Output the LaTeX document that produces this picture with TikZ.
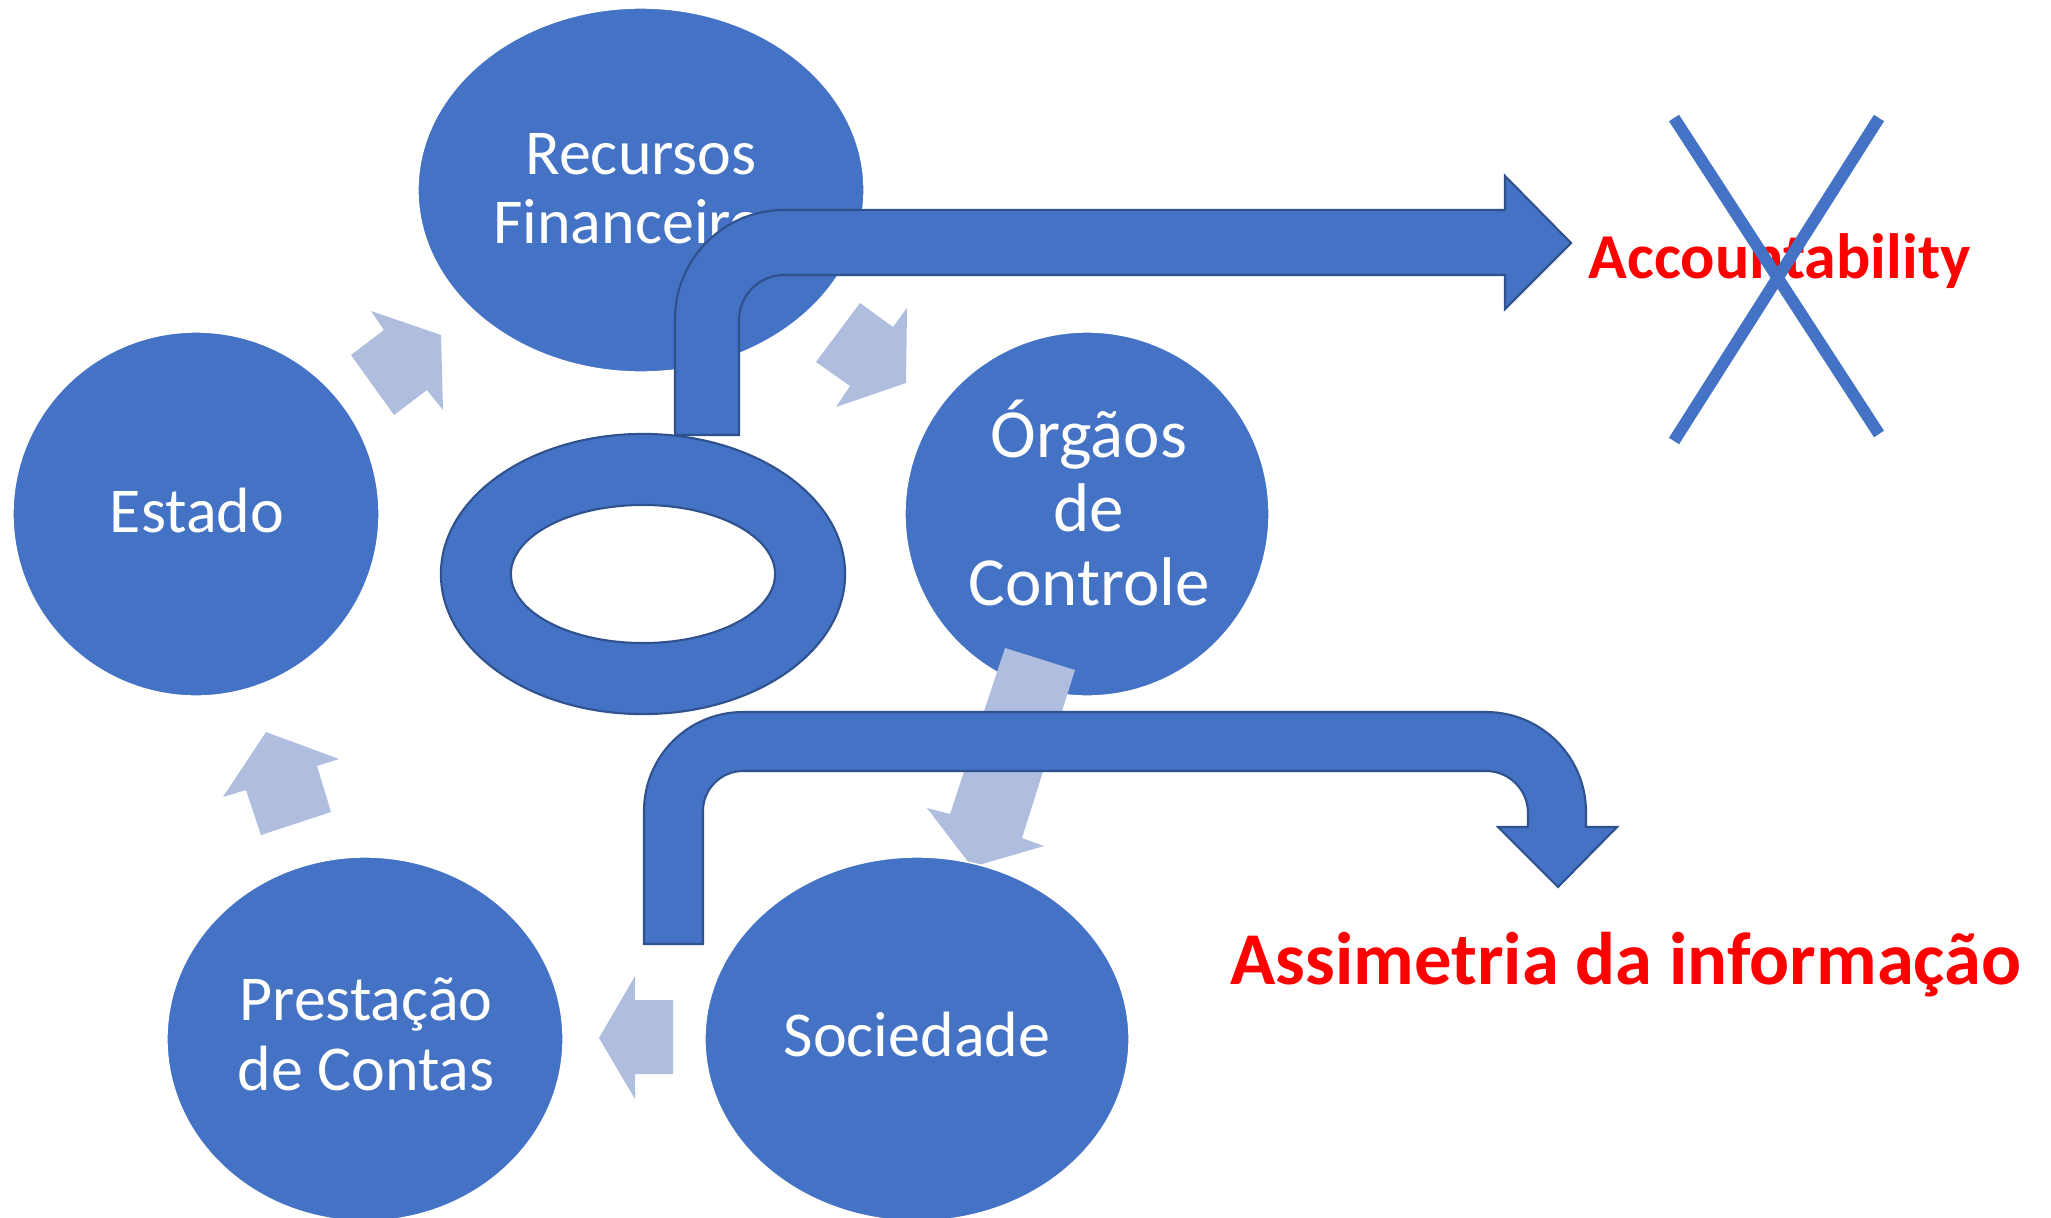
\documentclass[tikz,border=0pt]{standalone}
\usepackage{fontspec}
\setmainfont{Carlito}
\usetikzlibrary{shapes.geometric}
\definecolor{mainblue}{HTML}{4472C4}
\definecolor{darkblue}{HTML}{2F528F}
\definecolor{lightblue}{RGB}{175,189,222}
\definecolor{alertred}{RGB}{255,0,0}
\begin{document}
\begin{tikzpicture}[x=0.01cm,y=-0.01cm,
  bubble/.style={ellipse, fill=mainblue, draw=white, line width=0.45pt, inner sep=0pt, minimum height=3.64cm},
  celltext/.style={text=white, inner sep=0pt, anchor=base, font=\fontsize{18.2}{20}\selectfont},
  bigcelltext/.style={celltext, font=\fontsize{19.6}{21}\selectfont},
  flowarrow/.style={fill=lightblue, draw=none},
  bentarrow/.style={fill=mainblue, draw=darkblue, line width=0.6pt, line join=miter},
  redtext/.style={text=alertred, inner sep=0pt, anchor=base west},
  crossline/.style={draw=mainblue, line width=3.4pt}]
\useasboundingbox (0,0) rectangle (2051,1218);
\clip (0,0) rectangle (2051,1218);

% main bubbles
\node[bubble, minimum width=4.46cm] (recursos) at (641,190) {};
\node[bubble, minimum width=3.66cm] (estado) at (196,514) {};
\node[bubble, minimum width=3.64cm] (orgaos) at (1087,514) {};
\node[bubble, minimum width=3.96cm] (prestacao) at (365,1039) {};

% cycle arrows
\path[flowarrow] (351,355) -- (384,330) -- (371,311) -- (441,335) -- (443,410) -- (427,390) -- (394,415) -- cycle;
\path[flowarrow] (860,303) -- (893,327) -- (907,308) -- (906,383) -- (836,407) -- (850,386) -- (816,362) -- cycle;
\path[flowarrow] (1005,648) -- (1075,670) -- (1022,838) -- (1044,846) -- (972,867) -- (927,808) -- (950,814) -- cycle;
\path[flowarrow] (599,1038) -- (635,976) -- (635,1000) -- (673,1000) -- (673,1074) -- (635,1074) -- (635,1099) -- cycle;
\path[flowarrow] (266,732) -- (339,759) -- (317,766) -- (331,812) -- (261,835) -- (246,790) -- (223,797) -- cycle;

\node[bubble, minimum width=4.24cm] (sociedade) at (917,1039) {};

% texts in bubbles
\node[celltext] (rec1) at (641,174) {Recursos};
\node[celltext] (rec2) at (641,243) {Financeiros};
\node[celltext] (est1) at (197,532) {Estado};
\node[bigcelltext] (org1) at (1089,457) {Órgãos};
\node[bigcelltext] (org2) at (1089,531) {de};
\node[bigcelltext] (org3) at (1089,605) {Controle};
\node[celltext] (pre1) at (366,1020) {Prestação};
\node[celltext] (pre2) at (366,1090) {de Contas};
\node[celltext] (soc1) at (917,1056) {Sociedade};

% ring
\path[fill=mainblue, draw=darkblue, line width=0.6pt, even odd rule]
  (643,574) ellipse [x radius=2.02cm, y radius=1.40cm]
  (643,574) ellipse [x radius=1.32cm, y radius=0.69cm];

% bent arrow to Accountability
\path[bentarrow] (675,435) -- (675,319) .. controls (675,258.8) and (723.8,210) .. (784,210)
  -- (1505,210) -- (1505,176) -- (1571,243) -- (1505,309) -- (1505,275) -- (784,275)
  .. controls (759.1,275) and (739,295.1) .. (739,320) -- (739,435) -- cycle;

% bent arrow to Assimetria
\path[bentarrow] (644,944) -- (644,811) .. controls (644,756.3) and (688.3,712) .. (743,712)
  -- (1486,712) .. controls (1541.2,712) and (1586,756.8) .. (1586,812) -- (1586,827)
  -- (1617,827) -- (1558,887) -- (1498,827) -- (1528,827) -- (1528,813)
  .. controls (1528,789.8) and (1509.2,771) .. (1486,771) -- (743,771)
  .. controls (720.9,771) and (703,788.9) .. (703,811) -- (703,944) -- cycle;

% red labels
\node[redtext, font=\bfseries\fontsize{18.2}{20}\selectfont] (acc) at (1588,278) {Accountability};
\node[redtext, font=\bfseries\fontsize{21.2}{24}\selectfont] (assim) at (1230,984) {Assimetria da informação};

% cross
\coordinate (xa) at (1674,118);
\coordinate (xb) at (1879,434);
\coordinate (xc) at (1879,118);
\coordinate (xd) at (1674,441);
\draw[crossline] (xa) -- (xb);
\draw[crossline] (xc) -- (xd);
\end{tikzpicture}
\end{document}
